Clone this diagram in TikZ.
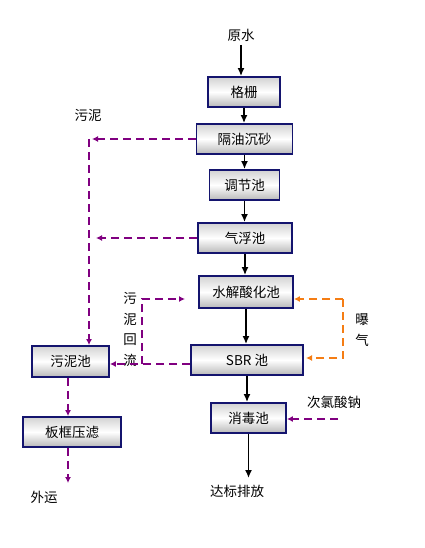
\documentclass[tikz,border=0pt]{standalone}
\usepackage{fontspec}
\setmainfont{Noto Sans CJK SC}
\usetikzlibrary{arrows.meta,calc}
\definecolor{navy}{RGB}{20,20,110}
\definecolor{sludge}{RGB}{128,0,128}
\definecolor{aer}{RGB}{245,125,20}
\begin{document}
\begin{tikzpicture}[x=1pt,y=-1pt,
  box/.style={draw=navy,line width=1.8pt,top color=gray!35,bottom color=gray!55,middle color=white,minimum height=30pt,inner sep=0pt,font=\fontsize{13.5}{15}\selectfont},
  lbl/.style={font=\fontsize{13.5}{15}\selectfont,inner sep=0pt},
  flow/.style={line width=1.8pt,-{Latex[length=8pt,width=7pt]}},
  sl/.style={draw=sludge,line width=1.6pt,dash pattern=on 8pt off 5pt},
  sla/.style={sl,-{Latex[length=6pt,width=6pt]}},
  ae/.style={draw=aer,line width=1.6pt,dash pattern=on 8pt off 5pt},
  aea/.style={ae,-{Latex[length=6pt,width=6pt]}}]
\useasboundingbox (0,0) rectangle (424,548);
% boxes
\node[box,minimum width=72pt] (gs) at (244,92) {格栅};
\node[box,minimum width=96pt] (gy) at (244.5,139) {隔油沉砂};
\node[box,minimum width=70pt] (tj) at (244.5,185) {调节池};
\node[box,minimum width=94pt] (qf) at (245,238) {气浮池};
\node[box,minimum width=94pt,minimum height=32pt] (sj) at (246,292) {水解酸化池};
\node[box,minimum width=112pt] (sbr) at (247,360) {SBR 池};
\node[box,minimum width=75pt] (xd) at (248.5,418) {消毒池};
\node[box,minimum width=77pt,minimum height=31pt] (wn) at (70.5,361.5) {污泥池};
\node[box,minimum width=98pt] (bk) at (72,432) {板框压滤};
% labels
\node[lbl] (ys) at (241,35) {原水};
\node[lbl] (wl) at (88,115) {污泥};
\node[lbl] (db) at (237,491) {达标排放};
\node[lbl] (wy) at (44,497) {外运};
\node[lbl] (cl) at (334,402) {次氯酸钠};
\node[lbl] (bq1) at (362,320) {曝};
\node[lbl] (bq2) at (362,340) {气};
\node[lbl] (h1) at (130,298) {污};
\node[lbl] (h2) at (130,319) {泥};
\node[lbl] (h3) at (130,340) {回};
\node[lbl] (h4) at (130,360) {流};
% coordinates
\coordinate (m0) at (241,45);
\coordinate (m8) at (248.5,478);
\coordinate (c1) at (89,139);
\coordinate (c1t) at (92,139);
\coordinate (c2t) at (96,238);
\coordinate (b1) at (142,364);
\coordinate (b2) at (142,299);
\coordinate (b3) at (185,299);
\coordinate (o1) at (343,299);
\coordinate (o2) at (343,358);
\coordinate (o3) at (306,358);
\coordinate (k1) at (68,483);
\coordinate (n1) at (338,419);
% main flow
\draw[flow] (m0) -- (m0 |- gs.north);
\draw[flow] (gs.south) -- (gs.south |- gy.north);
\draw[flow] (gy.south) -- (gy.south |- tj.north);
\draw[flow] (tj.south) -- (tj.south |- qf.north);
\draw[flow] (qf.south) -- (qf.south |- sj.north);
\draw[flow] (sj.south) -- (sj.south |- sbr.north);
\draw[flow] (sbr.south) -- (sbr.south |- xd.north);
\draw[flow] (xd.south) -- (xd.south |- m8);
% sludge lines
\draw[sla] (gy.west) -- (c1t);
\draw[sla] (c1) -- (c1 |- wn.north);
\draw[sla] (qf.west) -- (c2t);
\draw[sla] (sbr.west |- b1) -- (wn.east |- b1);
\draw[sla] (b1) -- (b2) -- (b3);
\draw[sla] (wn.south -| k1) -- (k1 |- bk.north);
\draw[sla] (bk.south -| k1) -- (k1);
\draw[sla] (n1) -- (xd.east |- n1);
% aeration
\draw[aea] (o1) -- (sj.east |- o1);
\draw[aea] (o1) -- (o2) -- (o3);
\end{tikzpicture}
\end{document}
